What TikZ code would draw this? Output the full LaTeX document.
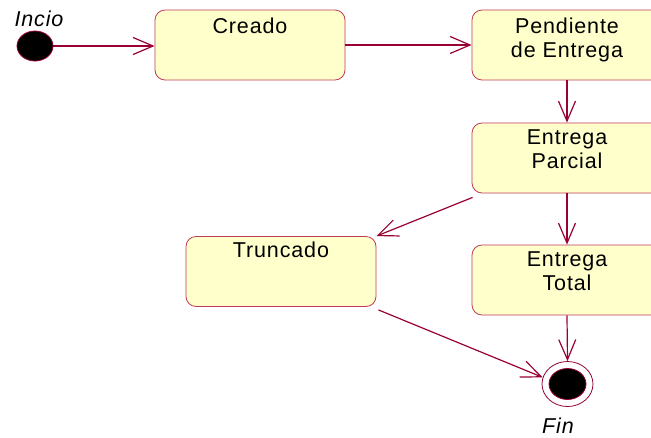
\documentclass[tikz,border=0pt]{standalone}
\usepackage{fontspec}
\setmainfont{Liberation Sans}
\usetikzlibrary{arrows.meta,shapes.geometric}
\definecolor{arrowc}{RGB}{153,0,51}
\definecolor{boxline}{RGB}{190,60,90}
\definecolor{boxfill}{RGB}{255,255,204}
\newfontfamily\widefont[LetterSpace=4]{Liberation Sans}
\tikzset{
  statebox/.style={rectangle, rounded corners=10pt, draw=boxline, fill=boxfill, line width=0.8pt,
    minimum width=190pt, minimum height=70pt, inner sep=0pt},
  stext/.style={anchor=north, inner sep=0pt, align=center, font=\widefont\fontsize{21.5}{24}\selectfont},
  trans/.style={draw=arrowc, line width=1.2pt, -{Straight Barb[length=20pt,width=17pt,line width=1.2pt]}},
  lbl/.style={inner sep=0pt, font=\widefont\fontsize{21.5}{24}\selectfont\itshape}
}
\begin{document}
\begin{tikzpicture}[x=1pt,y=-1pt]
\useasboundingbox (0,0) rectangle (651,437);
\clip (0,0) rectangle (651,437);
% start
\node[ellipse, draw=arrowc, fill=black, line width=0.8pt, minimum width=36pt, minimum height=30pt, inner sep=0pt] (start) at (35,46) {};
\node[lbl] (startlbl) at (39,19) {Incio};
% states
\node[statebox] (creado) at (250,45) {};
\node[stext] (creadot) at ([yshift=-8pt]creado.north) {Creado};
\node[statebox] (pend) at (567,45) {};
\node[stext] (pendt) at ([yshift=-8pt]pend.north) {Pendiente\\de Entrega};
\node[statebox] (parc) at (567,158) {};
\node[stext] (parct) at ([yshift=-7pt]parc.north) {Entrega\\Parcial};
\node[statebox] (trunc) at (281,271.5) {};
\node[stext] (trunct) at ([yshift=-6pt]trunc.north) {Truncado};
\node[statebox] (total) at (567,280) {};
\node[stext] (totalt) at ([yshift=-7pt]total.north) {Entrega\\Total};
% end
\node[ellipse, draw=arrowc, fill=white, line width=0.8pt, minimum width=51pt, minimum height=45pt, inner sep=0pt] (fin) at (567.5,384) {};
\node[ellipse, draw=arrowc, fill=black, line width=0.8pt, minimum width=37pt, minimum height=31pt, inner sep=0pt] (finin) at (567.5,384) {};
\node[lbl] (finlbl) at (558,426) {Fin};
% transitions
\draw[trans] (start.east) -- (start.east -| creado.west);
\draw[trans] (creado.east) -- (pend.west);
\draw[trans] (pend.south) -- (parc.north);
\draw[trans] ([shift={(1pt,-4pt)}]parc.south west) -- (trunc.north east);
\draw[trans] (parc.south) -- (total.north);
\draw[trans] ([shift={(2pt,-3pt)}]trunc.south east) -- (fin.165);
\draw[trans] (total.south) -- (fin.north);
\end{tikzpicture}
\end{document}
